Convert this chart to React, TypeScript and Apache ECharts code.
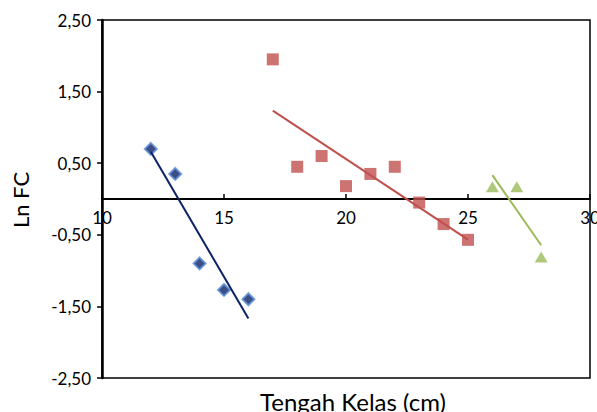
import React, { useEffect, useRef } from "react";
import * as echarts from "echarts";

const xTicks = { min: 10, max: 30, interval: 5 };
const yTicks = { min: -2.5, max: 2.5, interval: 1 };

const blueX = [12, 13, 14, 15, 16];
const blueY = [0.7, 0.35, -0.9, -1.27, -1.4];
const redX = [17, 18, 19, 20, 21, 22, 23, 24, 25];
const redY = [1.95, 0.45, 0.6, 0.18, 0.35, 0.45, -0.05, -0.35, -0.57];
const greenX = [26, 27, 28];
const greenY = [0.17, 0.17, -0.81];

const xTitle = "Tengah Kelas (cm)";
const yTitle = "Ln FC";

function pairs(xs: number[], ys: number[]) {
  return xs.map((x, i) => [x, ys[i]]);
}

function trend(xs: number[], ys: number[]) {
  const n = xs.length;
  const mx = xs.reduce((a, b) => a + b, 0) / n;
  const my = ys.reduce((a, b) => a + b, 0) / n;
  let sxy = 0;
  let sxx = 0;
  for (let i = 0; i < n; i++) {
    sxy += (xs[i] - mx) * (ys[i] - my);
    sxx += (xs[i] - mx) * (xs[i] - mx);
  }
  const b = sxy / sxx;
  const x0 = Math.min(...xs);
  const x1 = Math.max(...xs);
  return [
    [x0, my + b * (x0 - mx)],
    [x1, my + b * (x1 - mx)],
  ];
}

const FONT = "Lato, 'Open Sans', sans-serif";
const GRID_TOP = 20;
const GRID_BOTTOM = 34;
const CHART_H = 412;

export default function App() {
  const ref = useRef<HTMLDivElement>(null);
  useEffect(() => {
    if (!ref.current) return;
    const chart = echarts.init(ref.current, undefined, { renderer: "svg" });
    const gridH = CHART_H - GRID_TOP - GRID_BOTTOM;
    const zeroFromBottom = (gridH * (0 - yTicks.min)) / (yTicks.max - yTicks.min);
    chart.setOption({
      animation: false,
      backgroundColor: "#fff",
      grid: {
        left: 102,
        right: 7,
        top: GRID_TOP,
        bottom: GRID_BOTTOM,
        show: true,
        borderColor: "#000",
        borderWidth: 1.5,
        outerBoundsMode: "none",
        containLabel: false,
      },
      xAxis: {
        type: "value",
        min: xTicks.min,
        max: xTicks.max,
        interval: xTicks.interval,
        position: "bottom",
        offset: -zeroFromBottom,
        axisLine: { onZero: false, lineStyle: { color: "#000", width: 2 } },
        axisTick: { show: true, inside: true, length: 5, lineStyle: { color: "#000", width: 1.5 } },
        axisLabel: { color: "#000", fontSize: 17, fontFamily: FONT, margin: 10, hideOverlap: false },
        splitLine: { show: false },
      },
      yAxis: {
        type: "value",
        min: yTicks.min,
        max: yTicks.max,
        interval: yTicks.interval,
        axisLine: { show: true, onZero: false, lineStyle: { color: "#000", width: 2.5 } },
        axisTick: { show: true, inside: false, length: 5, lineStyle: { color: "#000", width: 1.5 } },
        axisLabel: {
          color: "#000",
          fontSize: 17,
          fontFamily: FONT,
          margin: 11,
          formatter: (v: number) => v.toFixed(2).replace(".", ","),
        },
        splitLine: { show: false },
      },
      graphic: [
        {
          type: "text",
          x: 353,
          y: 401,
          style: {
            text: xTitle,
            fontSize: 24,
            fontFamily: FONT,
            fill: "#000",
            align: "center",
            verticalAlign: "middle",
          },
        },
        {
          type: "text",
          x: 20,
          y: 200,
          rotation: Math.PI / 2,
          style: {
            text: yTitle,
            fontSize: 22,
            fontFamily: FONT,
            fill: "#000",
            align: "center",
            verticalAlign: "middle",
          },
        },
      ],
      series: [
        {
          type: "scatter",
          data: pairs(blueX, blueY),
          symbol: "diamond",
          symbolSize: 12,
          itemStyle: { color: "#0B2266", borderColor: "#5B8FD3", borderWidth: 2 },
          z: 2,
        },
        {
          type: "scatter",
          data: pairs(redX, redY),
          symbol: "rect",
          symbolSize: 12,
          itemStyle: { color: "#C0504D" },
          z: 2,
        },
        {
          type: "scatter",
          data: pairs(greenX, greenY),
          symbol: "triangle",
          symbolSize: [13, 11],
          itemStyle: { color: "#9BBB59" },
          z: 2,
        },
        {
          type: "line",
          data: trend(blueX, blueY),
          symbol: "none",
          lineStyle: { color: "#0B2266", width: 2 },
          z: 3,
        },
        {
          type: "line",
          data: trend(redX, redY),
          symbol: "none",
          lineStyle: { color: "#C0504D", width: 2 },
          z: 3,
        },
        {
          type: "line",
          data: trend(greenX, greenY),
          symbol: "none",
          lineStyle: { color: "#9BBB59", width: 2 },
          z: 3,
        },
      ],
    });
    return () => chart.dispose();
  }, []);
  return <div ref={ref} style={{ width: 597, height: 412, position: "absolute", left: 0, top: 0 }} />;
}
